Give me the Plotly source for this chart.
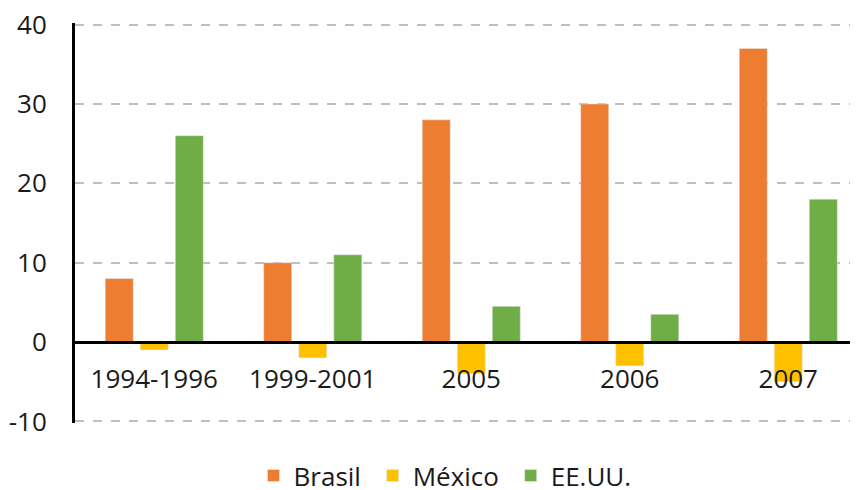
import plotly.graph_objects as go

periodos = ["1994-1996", "1999-2001", "2005", "2006", "2007"]
brasil = [8, 10, 28, 30, 37]
mexico = [-1, -2, -4, -3, -5]
eeuu = [26, 11, 4.5, 3.5, 18]
y_ticks = [-10, 0, 10, 20, 30, 40]
y_labels = ["-10", "0", "10", "20", "30", "40"]
y_min, y_max = -10.2, 40.2  # a bit past -10 / 40 so the end gridlines get drawn

fig = go.Figure()
fig.add_trace(go.Bar(x=periodos, y=brasil, name="Brasil\u00a0", marker_color="#ED7D31"))
fig.add_trace(go.Bar(x=periodos, y=mexico, name="México\u00a0", marker_color="#FFC000"))
fig.add_trace(go.Bar(x=periodos, y=eeuu, name="EE.UU.", marker_color="#70AD47"))

# page body has an 8px margin, so the figure is 8px smaller each way
fig.update_layout(
    width=850, height=482,
    margin=dict(l=67, r=0, t=15, b=67, autoexpand=False),
    paper_bgcolor="white", plot_bgcolor="white",
    font=dict(family="Open Sans", size=26, color="#1a1a1a"),
    barmode="group", bargap=0.337, bargroupgap=0.2,
    legend=dict(orientation="h", x=0.228, xanchor="left", y=-0.1315, yanchor="middle",
                font=dict(size=26), itemwidth=30),
)
fig.update_xaxes(
    range=[-0.5, 4.44], anchor="free", position=-y_min / (y_max - y_min), automargin=False,
    showline=True, linecolor="black", linewidth=3,
    showgrid=False, ticks="", ticklabelstandoff=13,
)
fig.update_yaxes(
    range=[y_min, y_max], tickvals=y_ticks, ticktext=y_labels, automargin=False,
    ticklabeloverflow="allow",
    showline=True, linecolor="black", linewidth=3,
    showgrid=True, gridcolor="#BFBFBF", gridwidth=2, griddash="dash",
    zeroline=False, ticks="", ticklabelstandoff=20,
)

fig.write_html("out.html")
